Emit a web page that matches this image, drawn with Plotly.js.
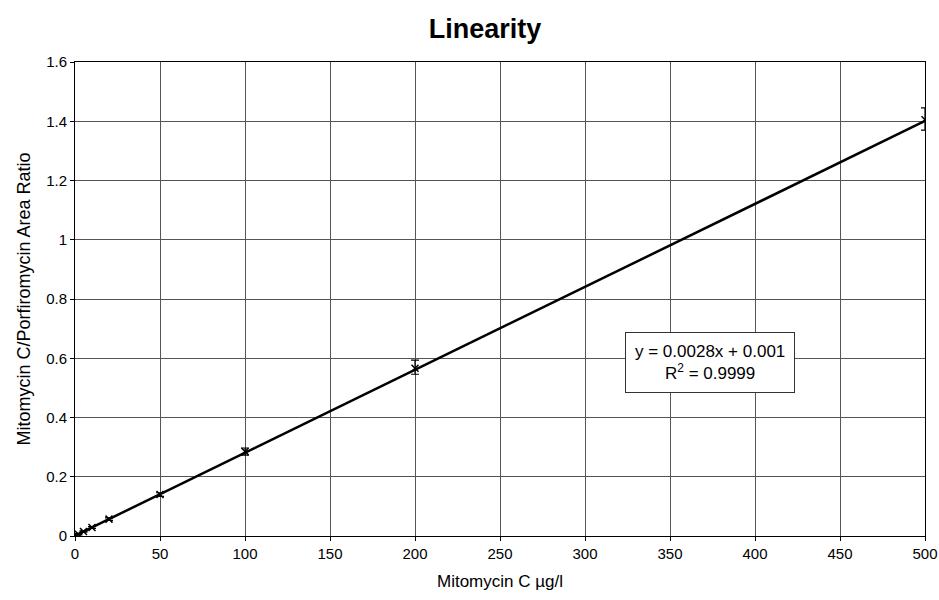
<!DOCTYPE html>
<html>
<head>
<meta charset="utf-8">
<script src="https://cdn.plot.ly/plotly-3.0.1.min.js"></script>
<style>html,body{margin:0;padding:0;background:#fff;}#chart{width:939px;height:600px;}</style>
</head>
<body>
<div id="chart"></div>
<script>
// Data
const concentrations = [2, 5, 10, 20, 50, 100, 200, 500];
const areaRatios = [0.006, 0.015, 0.029, 0.057, 0.14, 0.285, 0.566, 1.405];
const errorPlus = [0.002, 0.002, 0.003, 0.004, 0.006, 0.012, 0.028, 0.04];
const errorMinus = [0.002, 0.002, 0.003, 0.004, 0.006, 0.012, 0.02, 0.035];
const fitSlope = 0.0028;
const fitIntercept = 0.001;
const fitRange = [0, 500];
const xTicks = [0, 50, 100, 150, 200, 250, 300, 350, 400, 450, 500];
const yTicks = [0, 0.2, 0.4, 0.6, 0.8, 1, 1.2, 1.4, 1.6];
const yTickLabels = ['0', '0.2', '0.4', '0.6', '0.8', '1', '1.2', '1.4', '1.6'];

const fitX = fitRange;
const fitY = fitRange.map(x => fitSlope * x + fitIntercept);

const traces = [
  {
    x: fitX, y: fitY, mode: 'lines', type: 'scatter',
    line: {color: '#000', width: 2.5}, hoverinfo: 'skip', showlegend: false
  },
  {
    x: concentrations, y: areaRatios, mode: 'markers', type: 'scatter',
    marker: {symbol: 'x-thin', size: 7, color: '#000', line: {color: '#000', width: 1.5}},
    error_y: {type: 'data', symmetric: false, array: errorPlus, arrayminus: errorMinus, color: '#000', thickness: 1.2, width: 4},
    showlegend: false
  }
];

const font = 'Arial, "Liberation Sans", sans-serif';
const layout = {
  width: 939, height: 600,
  paper_bgcolor: '#fff', plot_bgcolor: '#fff',
  margin: {l: 75, r: 14, t: 62, b: 64},
  font: {family: font, color: '#000', size: 14},
  title: {text: '<b>Linearity</b>', x: 0.5165, xanchor: 'center', y: 0.953, yanchor: 'middle', font: {family: font, size: 27, color: '#000'}},
  xaxis: {
    range: [0, 500], tickvals: xTicks, ticktext: xTicks.map(String),
    showgrid: true, gridcolor: '#555', gridwidth: 1,
    showline: true, linecolor: '#000', linewidth: 1, mirror: true,
    ticks: 'outside', ticklen: 4, tickcolor: '#000',
    zeroline: false,
    tickfont: {family: font, size: 15, color: '#000'},
    title: {text: 'Mitomycin C µg/l', font: {family: font, size: 17, color: '#000'}, standoff: 14}
  },
  yaxis: {
    range: [0, 1.6], tickvals: yTicks, ticktext: yTickLabels,
    showgrid: true, gridcolor: '#555', gridwidth: 1,
    showline: true, linecolor: '#000', linewidth: 1, mirror: true,
    ticks: 'outside', ticklen: 4, tickcolor: '#000',
    zeroline: false,
    tickfont: {family: font, size: 15, color: '#000'},
    title: {text: 'Mitomycin C/Porfiromycin Area Ratio', font: {family: font, size: 18, color: '#000'}, standoff: 10}
  },
  annotations: [{
    x: 373.5, y: 0.584, xref: 'x', yref: 'y',
    text: 'y = 0.0028x + 0.001<br>R<sup>2</sup> = 0.9999',
    showarrow: false, align: 'center',
    font: {family: font, size: 17, color: '#000'},
    bgcolor: '#fff', bordercolor: '#333', borderwidth: 1, borderpad: 9
  }]
};

Plotly.newPlot('chart', traces, layout, {displayModeBar: false, staticPlot: true});
</script>
</body>
</html>
